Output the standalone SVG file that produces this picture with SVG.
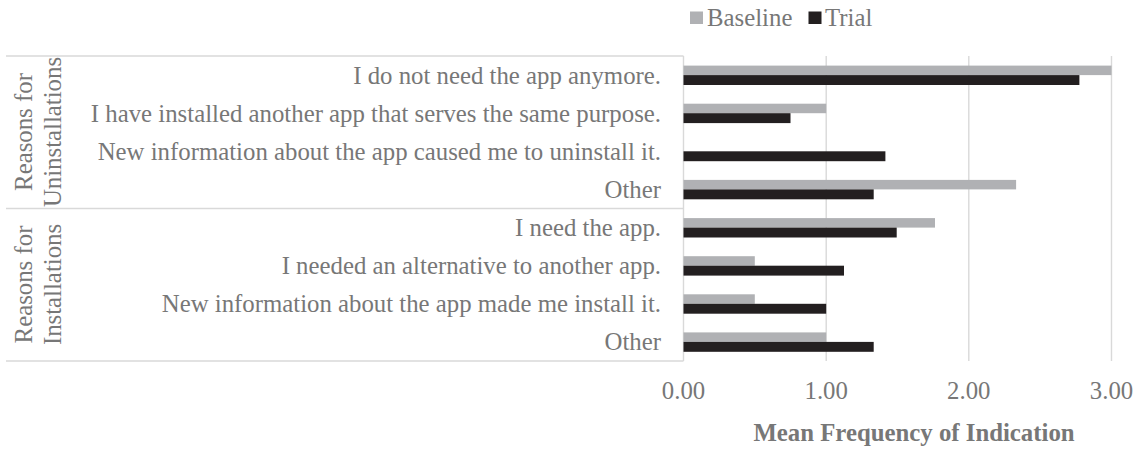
<svg xmlns="http://www.w3.org/2000/svg" width="1138" height="449" viewBox="0 0 1138 449">
  <style>
    text { font-family: "Liberation Serif", "Times New Roman", serif; font-size: 24.8px; fill: #777777; }
    .cat { text-anchor: end; }
    .tick { text-anchor: middle; }
    .title { text-anchor: middle; font-weight: bold; }
    .grp { text-anchor: middle; }
    .grid { stroke: #d9d9d9; stroke-width: 1.4; fill: none; }
    .base { fill: #b0b1b4; }
    .trial { fill: #231f20; }
  </style>

  <!-- legend -->
  <g id="legend">
    <rect class="base" x="690" y="11.5" width="13" height="12.5"/>
    <text x="707" y="26">Baseline</text>
    <rect class="trial" x="808.5" y="11.5" width="13" height="12.5"/>
    <text x="825" y="26">Trial</text>
  </g>

  <!-- frame and value gridlines -->
  <g id="grid">
    <line class="grid" x1="6" y1="56" x2="683.5" y2="56"/>
    <line class="grid" x1="6" y1="208.5" x2="683.5" y2="208.5"/>
    <line class="grid" x1="6" y1="361" x2="683.5" y2="361"/>
    <line class="grid" x1="683.5" y1="56" x2="683.5" y2="361"/>
    <line class="grid" x1="826.2" y1="56" x2="826.2" y2="361"/>
    <line class="grid" x1="968.8" y1="56" x2="968.8" y2="361"/>
    <line class="grid" x1="1111.5" y1="56" x2="1111.5" y2="361"/>
  </g>

  <!-- group labels -->
  <g id="group-uninstall">
    <text class="grp" transform="translate(32,132) rotate(-90)">Reasons for</text>
    <text class="grp" transform="translate(61,132) rotate(-90)">Uninstallations</text>
  </g>
  <g id="group-install">
    <text class="grp" transform="translate(32,284.5) rotate(-90)">Reasons for</text>
    <text class="grp" transform="translate(61,284.5) rotate(-90)">Installations</text>
  </g>

  <!-- category labels -->
  <g id="categories">
    <text class="cat" x="661" y="83.5">I do not need the app anymore.</text>
    <text class="cat" x="661" y="121.7">I have installed another app that serves the same purpose.</text>
    <text class="cat" x="661" y="159.8">New information about the app caused me to uninstall it.</text>
    <text class="cat" x="661" y="197.9">Other</text>
    <text class="cat" x="661" y="236">I need the app.</text>
    <text class="cat" x="661" y="274.2">I needed an alternative to another app.</text>
    <text class="cat" x="661" y="312.3">New information about the app made me install it.</text>
    <text class="cat" x="661" y="350.4">Other</text>
  </g>

  <!-- bars: baseline above, trial below each category centre -->
  <g id="bars">
    <rect class="base"  x="683.5" y="65.6"  width="428"   height="9.5"/>
    <rect class="trial" x="683.5" y="75.1"  width="395.9" height="9.9"/>

    <rect class="base"  x="683.5" y="103.7" width="142.7" height="9.5"/>
    <rect class="trial" x="683.5" y="113.2" width="107"   height="9.9"/>

    <rect class="trial" x="683.5" y="151.3" width="201.9" height="9.9"/>

    <rect class="base"  x="683.5" y="179.9" width="332.6" height="9.5"/>
    <rect class="trial" x="683.5" y="189.4" width="190.2" height="9.9"/>

    <rect class="base"  x="683.5" y="218.1" width="251.5" height="9.5"/>
    <rect class="trial" x="683.5" y="227.6" width="213.2" height="9.9"/>

    <rect class="base"  x="683.5" y="256.2" width="71.3"  height="9.5"/>
    <rect class="trial" x="683.5" y="265.7" width="160.5" height="9.9"/>

    <rect class="base"  x="683.5" y="294.3" width="71.3"  height="9.5"/>
    <rect class="trial" x="683.5" y="303.8" width="142.7" height="9.9"/>

    <rect class="base"  x="683.5" y="332.4" width="142.7" height="9.5"/>
    <rect class="trial" x="683.5" y="341.9" width="190.2" height="9.9"/>
  </g>

  <!-- value axis -->
  <g id="axis">
    <text class="tick" x="683.5" y="399">0.00</text>
    <text class="tick" x="826.2" y="399">1.00</text>
    <text class="tick" x="968.8" y="399">2.00</text>
    <text class="tick" x="1111.5" y="399">3.00</text>
    <text class="title" x="914" y="441">Mean Frequency of Indication</text>
  </g>
</svg>
